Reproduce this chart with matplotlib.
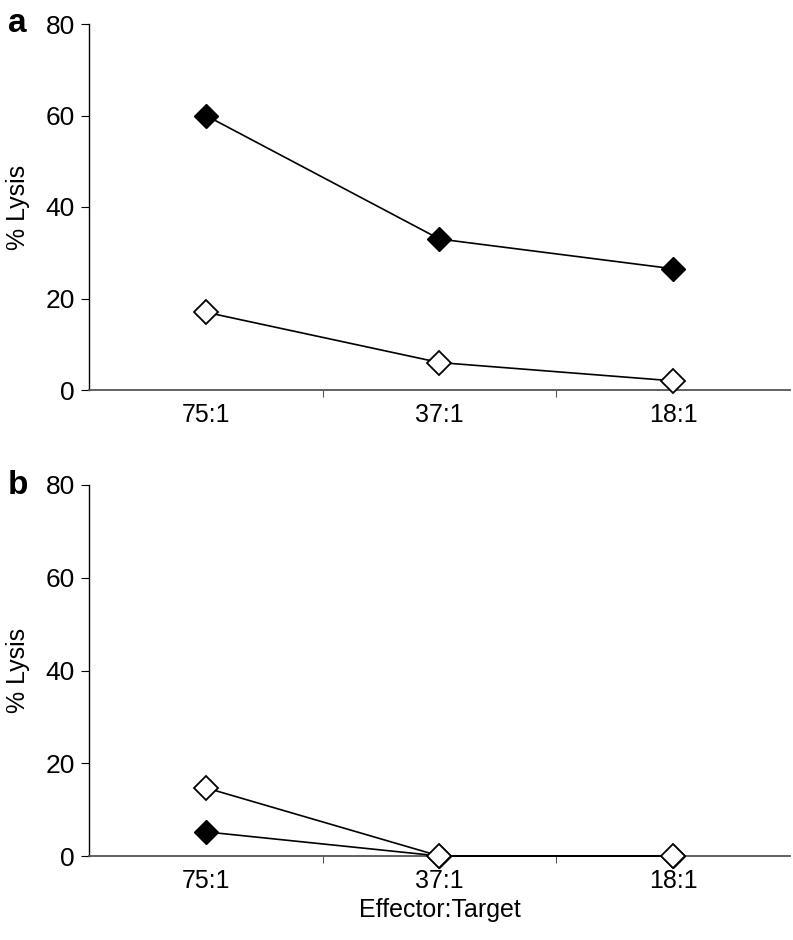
import matplotlib
matplotlib.use("Agg")
import matplotlib.pyplot as plt

plt.rcParams['font.family'] = ['Liberation Sans', 'DejaVu Sans']

# Data
categories = ['75:1', '37:1', '18:1']
a_filled = [60, 33, 26.5]
a_open = [17, 6, 2]
b_filled = [5.2, 0, 0]
b_open = [14.7, 0, 0]
yticks = [0, 20, 40, 60, 80]

fig = plt.figure(figsize=(7.93, 9.4), dpi=100)
ax_a = fig.add_axes([89/793, 1-390/940, 701/793, 366/940])
ax_b = fig.add_axes([89/793, 1-856/940, 701/793, 371/940])

for ax, filled, opn, label in [(ax_a, a_filled, a_open, 'a'), (ax_b, b_filled, b_open, 'b')]:
    x = range(len(categories))
    ax.plot(x, filled, color='black', lw=1.2, marker='D', markersize=12,
            markerfacecolor='black', markeredgecolor='black', zorder=3, clip_on=False)
    ax.plot(x, opn, color='black', lw=1.2, marker='D', markersize=12,
            markerfacecolor='white', markeredgecolor='black', markeredgewidth=1.3,
            zorder=4, clip_on=False)
    ax.set_xlim(-0.5, 2.5)
    ax.set_ylim(0, 80)
    ax.set_yticks(yticks)
    ax.set_xticks([0.5, 1.5])
    ax.set_xticklabels([])
    ax.set_xticks(list(x), minor=True)
    ax.set_xticklabels(categories, minor=True)
    ax.tick_params(axis='x', which='minor', length=0, pad=9, labelsize=18)
    ax.tick_params(axis='x', which='major', length=5, direction='out', color='#555555')
    ax.tick_params(axis='y', length=6, direction='out', labelsize=19, pad=4)
    for s in ['top', 'right']:
        ax.spines[s].set_visible(False)
    ax.spines['bottom'].set_color('#555555')
    ax.spines['bottom'].set_linewidth(1.3)
    ax.spines['left'].set_linewidth(1.0)
    ax.set_ylabel('% Lysis', fontsize=18, labelpad=11)
    ax.text(-0.116, 1.0, label, transform=ax.transAxes, fontsize=24,
            fontweight='bold', va='center', ha='left')

ax_b.set_xlabel('Effector:Target', fontsize=18, labelpad=4)

fig.savefig('out.png', dpi=100)
